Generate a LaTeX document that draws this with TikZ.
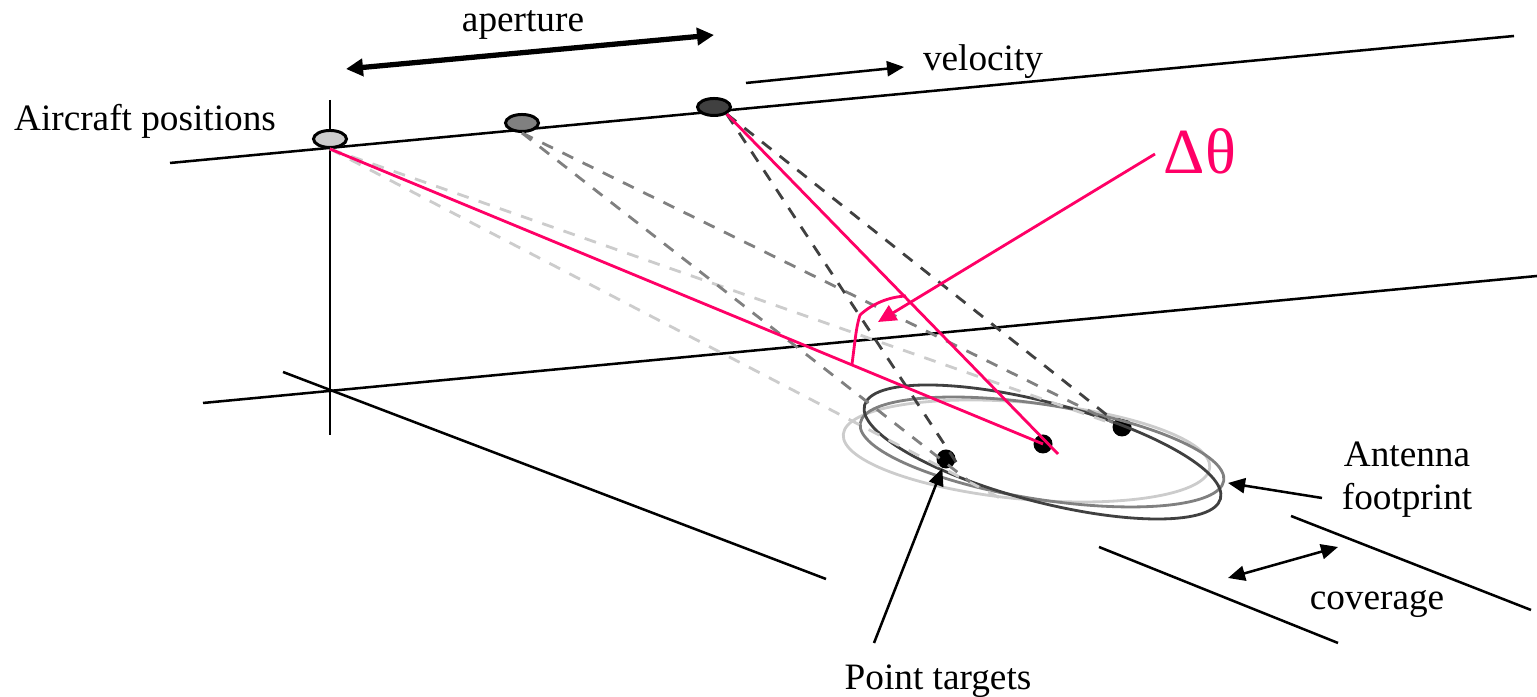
\documentclass[tikz,border=0pt]{standalone}
\usepackage{fontspec}
\setmainfont{Liberation Serif}
\usetikzlibrary{arrows.meta,shapes.geometric}
\definecolor{pinkC}{RGB}{255,0,102}
\definecolor{lightC}{RGB}{204,204,204}
\definecolor{midC}{RGB}{128,128,128}
\definecolor{darkC}{RGB}{64,64,64}
\tikzset{
  axisS/.style ={black, line width=0.72pt},
  rayS/.style  ={draw=#1, dashed, dash pattern=on 3.4pt off 3pt, line width=0.8pt},
  printS/.style={draw=#1, line width=0.8pt},
  plane/.style ={draw=black, line width=0.85pt, fill=#1, ellipse, minimum width=0.33cm, minimum height=0.17cm, inner sep=0pt},
  target/.style={circle, fill=black, minimum size=0.19cm, inner sep=0pt},
  pinkS/.style ={draw=pinkC, line width=0.8pt},
  arrowS/.style={black, line width=0.72pt, -{Triangle[length=0.17cm,width=0.15cm]}},
  lab/.style   ={font=\fontsize{10.6}{12.2}\selectfont, inner sep=0pt, align=center},
}
\begin{document}
\begin{tikzpicture}
  \useasboundingbox (0,0) rectangle (15.37,6.97);
  % axes
  \draw[axisS] (1.70,5.34) -- (15.14,6.61);
  \draw[axisS] (2.03,2.94) -- (15.37,4.21);
  \draw[axisS] (3.30,5.97) -- (3.30,2.62);
  \draw[axisS] (2.83,3.25) -- (8.26,1.18);
  \draw[axisS] (10.99,1.50) -- (13.38,0.54);
  \draw[axisS] (12.91,1.81) -- (15.31,0.87);
  % aircraft and targets
  \node[plane=lightC] (acA) at (3.30,5.58) {};
  \node[plane=midC]   (acB) at (5.22,5.74) {};
  \node[plane=darkC]  (acC) at (7.14,5.90) {};
  \node[target] (tgtA) at (9.46,2.38) {};
  \node[target] (tgtB) at (10.43,2.53) {};
  \node[target] (tgtC) at (11.22,2.70) {};
  \coordinate (endA) at (10.00,1.99);
  \coordinate (endB) at (9.70,2.15);
  \coordinate (endC) at (9.58,2.32);
  \coordinate (endP) at (10.58,2.43);
  % footprints
  \draw[printS=lightC] (10.265,2.46) ellipse [x radius=1.84, y radius=0.484, rotate=-5.2];
  \draw[printS=midC]   (10.42,2.45) ellipse [x radius=1.84, y radius=0.474, rotate=-9];
  \draw[printS=darkC]  (10.425,2.45) ellipse [x radius=1.84, y radius=0.497, rotate=-14.7];
  % rays
  \draw[rayS=lightC] (acA.south) -- (endA);
  \draw[rayS=lightC] (acA.south) -- (tgtC);
  \draw[rayS=midC]   (acB.south) -- (endB);
  \draw[rayS=midC]   (acB.south) -- (tgtC);
  \draw[rayS=darkC]  (acC.south east) -- (endC);
  \draw[rayS=darkC]  (acC.south east) -- (tgtC);
  \draw[pinkS] (acA.south) -- (tgtB.center);
  \draw[pinkS] (acC.south east) -- (endP);
  % angle
  \draw[pinkS] (8.52,3.33) .. controls (8.55,3.55) and (8.56,3.70) .. (8.60,3.82)
    .. controls (8.72,3.93) and (8.88,4.00) .. (9.06,4.01);
  \node[text=pinkC, font=\fontsize{18.3}{20}\selectfont, inner sep=0pt] (delta) at (12.00,5.46) {Δθ};
  \coordinate (deltaS) at (11.55,5.43);
  \coordinate (deltaTip) at (8.78,3.75);
  \draw[pinkS, -{Triangle[length=0.18cm,width=0.17cm]}] (deltaS) -- (deltaTip);
  % labels
  \node[lab] (aperture) at (5.23,6.72) {aperture};
  \coordinate (apL) at (3.46,6.28);
  \coordinate (apR) at (7.14,6.62);
  \draw[black, line width=1.5pt, {Triangle[length=0.17cm,width=0.17cm]}-{Triangle[length=0.17cm,width=0.17cm]}] (apL) -- (apR);
  \node[lab] (velocity) at (9.83,6.35) {velocity};
  \coordinate (velS) at (7.46,6.14);
  \coordinate (velT) at (9.04,6.30);
  \draw[arrowS] (velS) -- (velT);
  \node[lab] (aircraft) at (1.45,5.76) {Aircraft positions};
  \node[lab] (antenna) at (14.07,2.17) {Antenna\\footprint};
  \coordinate (antS) at (13.22,1.99);
  \coordinate (antT) at (12.28,2.14);
  \draw[arrowS] (antS) -- (antT);
  \node[lab] (coverage) at (13.77,0.93) {coverage};
  \coordinate (covL) at (12.28,1.19);
  \coordinate (covR) at (13.38,1.50);
  \draw[axisS, {Triangle[length=0.17cm,width=0.15cm]}-{Triangle[length=0.17cm,width=0.15cm]}] (covL) -- (covR);
  \node[lab] (points) at (9.38,0.16) {Point targets};
  \coordinate (ptS) at (8.74,0.54);
  \draw[arrowS] (ptS) -- (tgtA);
\end{tikzpicture}
\end{document}
